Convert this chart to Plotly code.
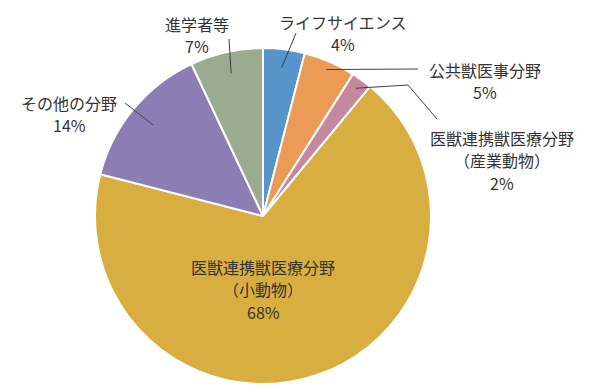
import math
import plotly.graph_objects as go

categories = ["ライフサイエンス", "公共獣医事分野", "医獣連携獣医療分野<br>（産業動物）",
              "医獣連携獣医療分野<br>（小動物）", "その他の分野", "進学者等"]
values = [4, 5, 2, 68, 14, 7]
colors = ["#5694CA", "#EB9B56", "#C5889F", "#D9AE40", "#8C7EB4", "#9BAB8F"]

W, H = 600, 388
CX, CY, R = 263, 216, 168
LINE_H = 22.5

# label centres (pixels) and leader-line elbow points
label_pos = [(343, 33), (485, 81), (502, 160), (263, 289), (69, 114), (197, 35)]
leader_r = [0.89, 0.95, 0.94, None, 0.85, 0.87]
leader_end = [(296, 33), (418, 69), [(408, 85), (437, 119)], None, (125, 103), (229, 39)]

def px(x, y):
    return x / W, 1 - y / H

fig = go.Figure(go.Pie(
    labels=[c.replace("<br>", "") for c in categories], values=values,
    sort=False, direction="clockwise", rotation=0,
    marker=dict(colors=colors, line=dict(color="white", width=2)),
    textinfo="none", hoverinfo="label+percent", showlegend=False,
    domain=dict(x=[(CX - R) / W, (CX + R) / W], y=[(H - CY - R) / H, (H - CY + R) / H]),
))

total = sum(values)
cum = 0
annotations, shapes = [], []
for i, (cat, v) in enumerate(zip(categories, values)):
    mid = (cum + v / 2) / total * 2 * math.pi
    cum += v
    lx, ly = label_pos[i]
    lines = cat.split("<br>") + [f"{round(v / total * 100)}%"]
    n = len(lines)
    for k, t in enumerate(lines):
        yy = ly + (k - (n - 1) / 2) * LINE_H
        annotations.append(dict(
            x=lx / W, y=1 - yy / H, xref="paper", yref="paper",
            text=t, showarrow=False,
            font=dict(size=16, color="#333333", family="Noto Sans CJK JP"),
            align="center", xanchor="center", yanchor="middle",
        ))
    if leader_r[i] is not None:
        sx = CX + leader_r[i] * R * math.sin(mid)
        sy = CY - leader_r[i] * R * math.cos(mid)
        pts = [(sx, sy)]
        e = leader_end[i]
        if isinstance(e, list):
            pts += e
        else:
            pts.append(e)
        for (x0, y0), (x1, y1) in zip(pts[:-1], pts[1:]):
            a0, b0 = px(x0, y0)
            a1, b1 = px(x1, y1)
            shapes.append(dict(type="line", xref="paper", yref="paper",
                               x0=a0, y0=b0, x1=a1, y1=b1,
                               line=dict(color="#404040", width=1)))

fig.update_layout(
    width=W, height=H, margin=dict(l=0, r=0, t=0, b=0),
    paper_bgcolor="white", plot_bgcolor="white",
    annotations=annotations, shapes=shapes,
)
fig.write_html("out.html", config={"displayModeBar": False},
               post_script="document.body.style.margin='0';")
